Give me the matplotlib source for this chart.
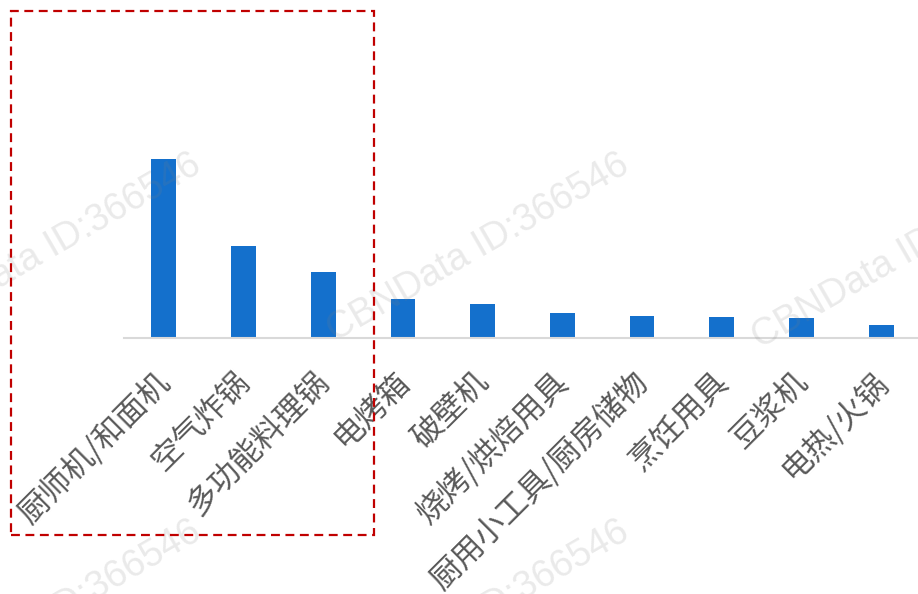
import matplotlib
matplotlib.use("Agg")
import matplotlib.pyplot as plt
from matplotlib.patches import Rectangle
from matplotlib.transforms import ScaledTranslation

plt.rcParams['font.family'] = ['Noto Sans CJK SC', 'DejaVu Sans']

categories = ["厨师机/和面机", "空气炸锅", "多功能料理锅", "电烤箱", "破壁机",
              "烧烤/烘焙用具", "厨用小工具/厨房储物", "烹饪用具", "豆浆机", "电热/火锅"]
values = [179, 92, 66, 39, 34, 25, 22, 21, 20, 13]

W, H = 918, 594
fig = plt.figure(figsize=(W / 100, H / 100), dpi=100)
ax = fig.add_axes([124 / W, (H - 338) / H, 797 / W, 328 / H])

ax.bar(range(len(categories)), values, width=0.31, color='#1470CC', zorder=2)
ax.set_xlim(-0.5, len(categories) - 0.5)
ax.set_ylim(0, 328)
for s in ['top', 'right', 'left']:
    ax.spines[s].set_visible(False)
ax.spines['bottom'].set_color('#D9D9D9')
ax.spines['bottom'].set_linewidth(1.5)
ax.set_yticks([])
ax.set_xticks(range(len(categories)))
ax.set_xticklabels(categories, rotation=45, ha='right', va='top',
                   rotation_mode='anchor', fontsize=22.5, color='#595959')
ax.tick_params(axis='x', length=0, pad=20)
offset = ScaledTranslation(-10 / 100, 0, fig.dpi_scale_trans)
for lbl in ax.get_xticklabels():
    lbl.set_transform(lbl.get_transform() + offset)

# watermarks
wm_text = "CBNData ID:366546"
for cx, cy in [(50, 248), (478, 248), (903, 255), (50, 615), (478, 615)]:
    fig.text(cx / W, 1 - cy / H, wm_text, rotation=30, ha='center', va='center',
             rotation_mode='anchor', fontsize=27, color='#808080', alpha=0.17,
             family=['Liberation Sans', 'DejaVu Sans'], zorder=10)

# red dashed highlight box
rect = Rectangle((11 / W, 1 - 535 / H), (374 - 11) / W, (535 - 11) / H,
                 transform=fig.transFigure, fill=False, edgecolor='#C00000',
                 linewidth=1.6, linestyle=(0, (4, 2.5)), zorder=20)
fig.patches.append(rect)

fig.savefig('out.png', dpi=100)
